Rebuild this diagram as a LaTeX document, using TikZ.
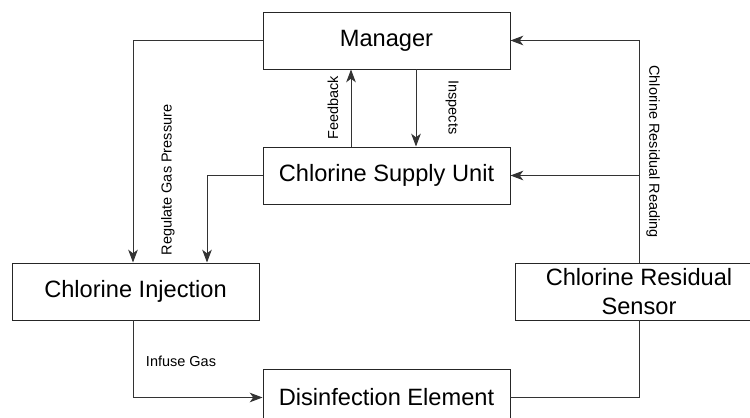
\documentclass[tikz,border=0pt]{standalone}
\usepackage{fontspec}
\setmainfont{Liberation Sans}
\usetikzlibrary{arrows.meta}
\usetikzlibrary{positioning}
\usetikzlibrary{calc}

\tikzset{
  block/.style={draw=black!85, line width=0.7pt, minimum width=6.175cm, minimum height=1.425cm, inner sep=2pt, font=\fontsize{16.8}{21}\selectfont},
  link/.style={draw=black!80, line width=0.7pt},
  arr/.style={link, -{Stealth[length=0.32cm, width=0.24cm, inset=0.09cm]}},
  lbl/.style={font=\fontsize{10.3}{12}\selectfont}
}

\begin{document}
\begin{tikzpicture}
  \useasboundingbox (0,0) rectangle (18.75,10.45);
  \node[block] (Manager) at (9.6625,9.4375) {Manager};
  \node[block] (Supply) at (9.6625,6.0625) {Chlorine Supply Unit};
  \node[block] (Injection) at (3.3875,3.1625) {Chlorine Injection};
  \node[block] (Disinf) at (9.6625,0.5125) {Disinfection Element};
  \node[block, align=center] (Sensor) at (15.975,3.1625) {Chlorine Residual\\Sensor};
  \coordinate (injL) at ([xshift=-0.0625cm]Injection.north);
  \coordinate (injR) at ([xshift=1.7875cm]Injection.north);
  \coordinate (tap) at (Sensor.north |- Supply.east);
  \draw[arr] (Manager.west) -| (injL);
  \draw[arr] (Supply.west) -| (injR);
  \draw[arr] ([xshift=-0.8875cm]Supply.north) -- ([xshift=-0.8875cm]Manager.south);
  \draw[arr] ([xshift=0.7375cm]Manager.south) -- ([xshift=0.7375cm]Supply.north);
  \draw[arr] (Sensor.north) |- (Manager.east);
  \draw[arr] (tap) -- (Supply.east);
  \draw[arr] ([xshift=-0.0625cm]Injection.south) |- (Disinf.west);
  \draw[link] (Disinf.east) -| (Sensor.south);
  % edge labels
  \node[lbl, rotate=90] (regLbl) at (4.2,5.95) {Regulate Gas Pressure};
  \node[lbl, rotate=90] (fbLbl) at (8.325,7.75) {Feedback};
  \node[lbl, rotate=-90] (inspLbl) at (11.3,7.7625) {Inspects};
  \node[lbl, rotate=-90] (readLbl) at (16.325,6.6625) {Chlorine Residual Reading};
  \node[lbl] (infLbl) at (4.525,1.425) {Infuse Gas};
\end{tikzpicture}
\end{document}
